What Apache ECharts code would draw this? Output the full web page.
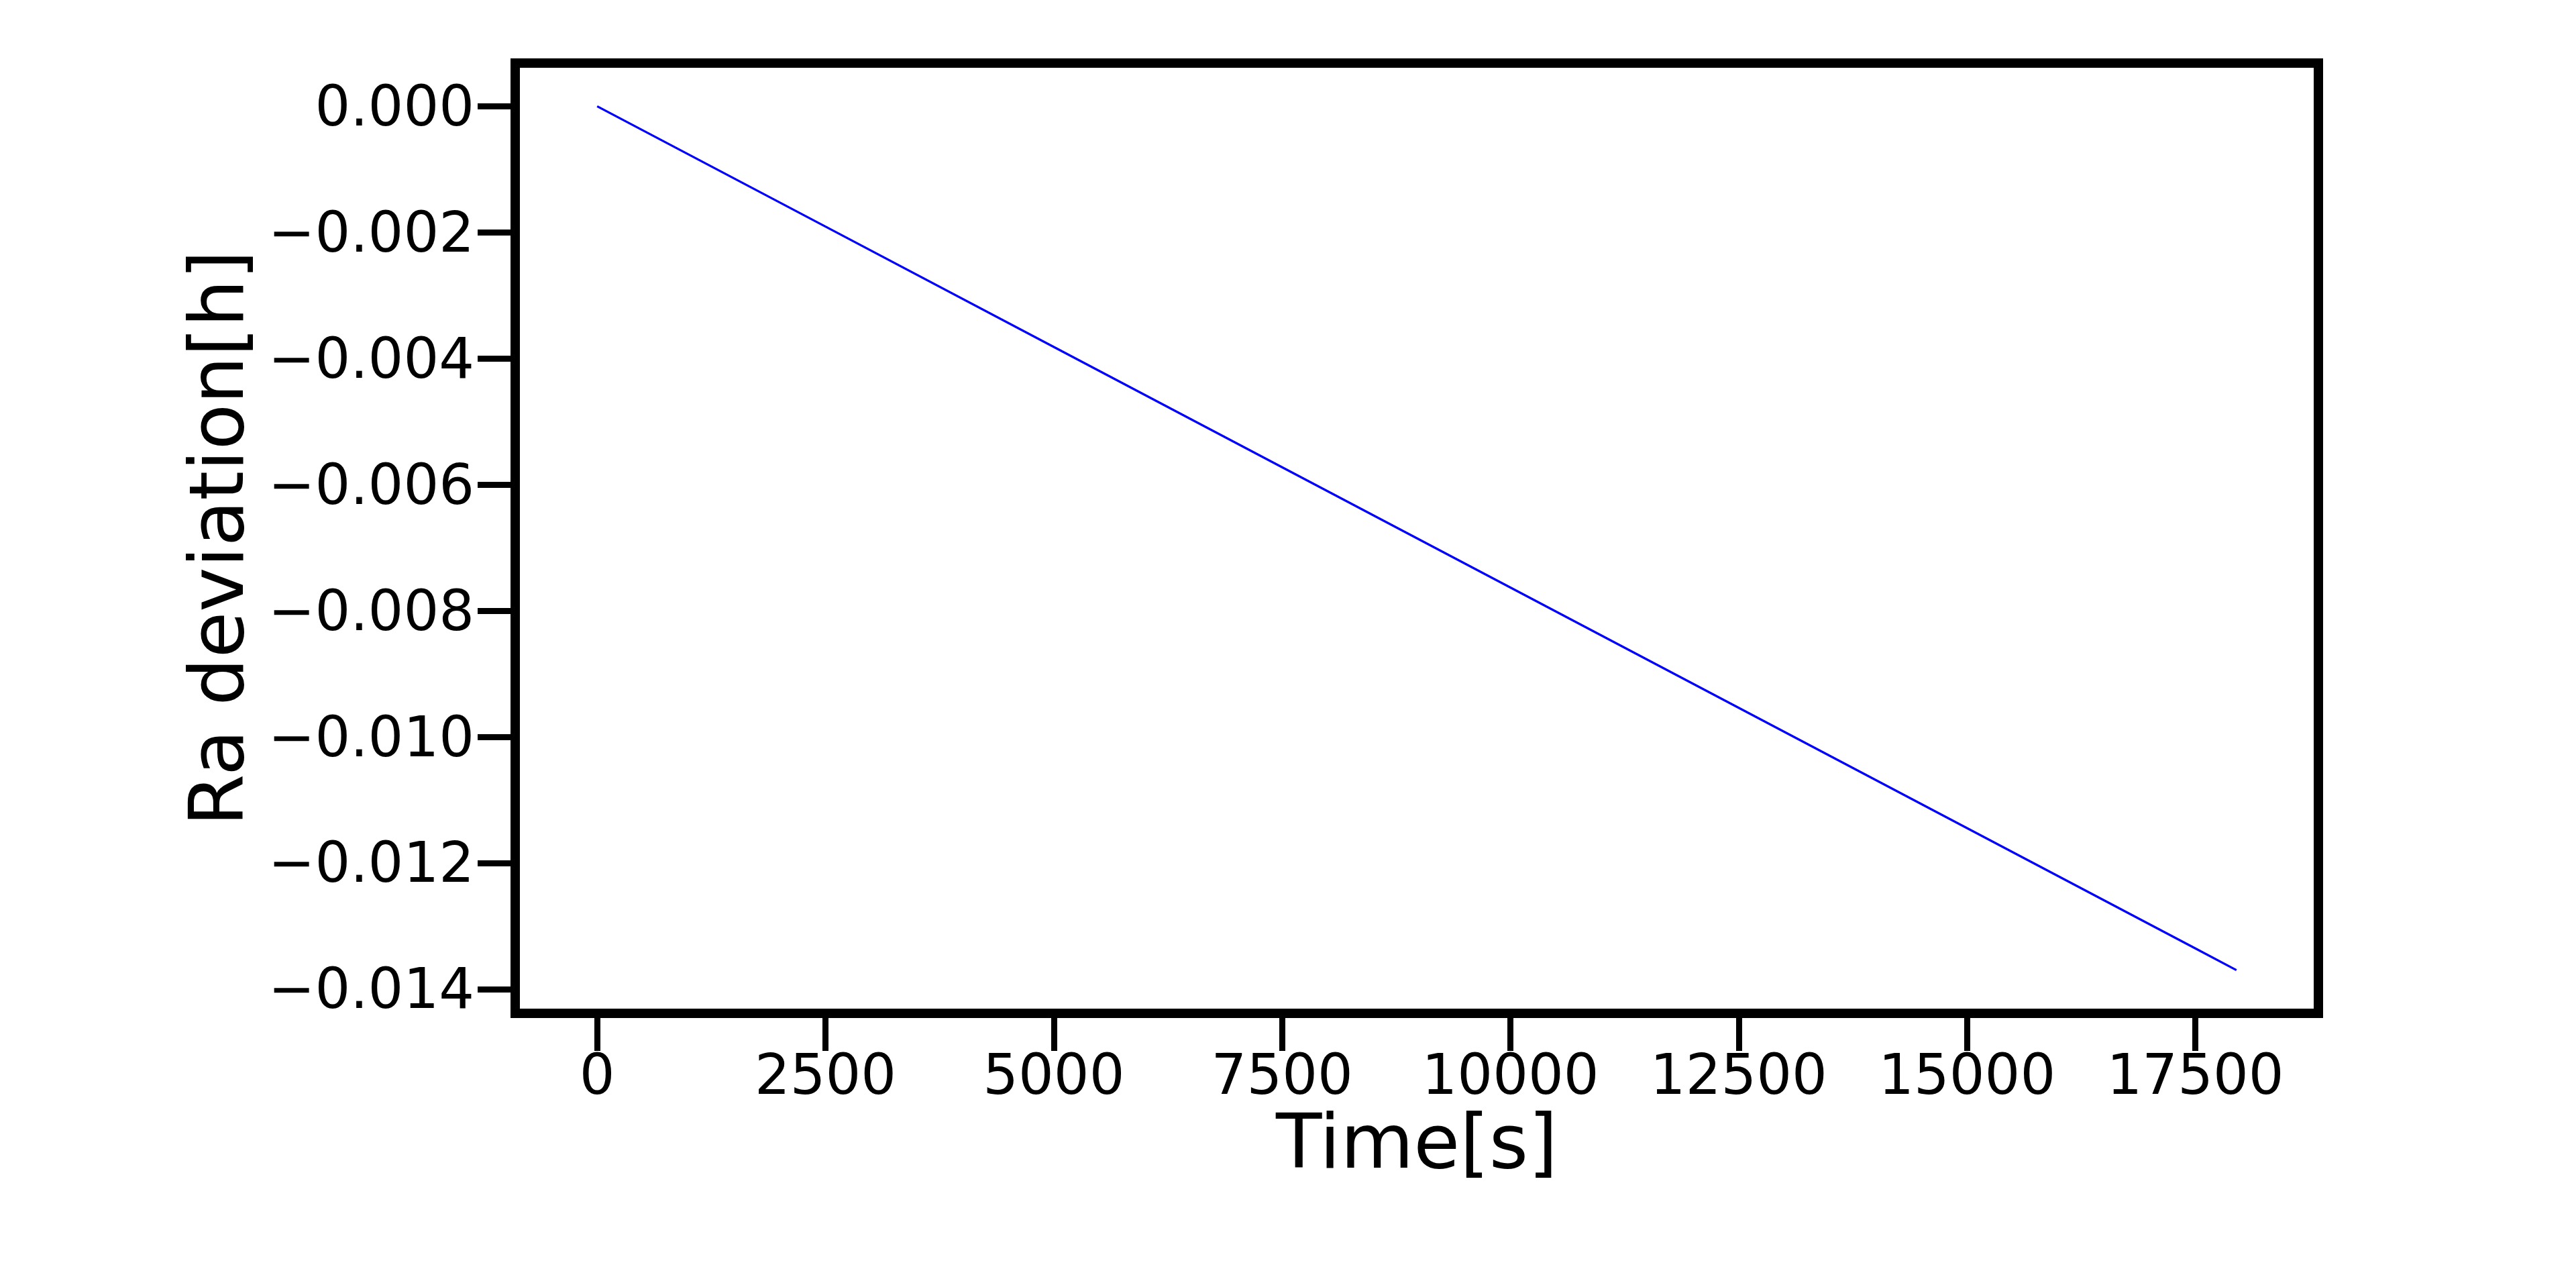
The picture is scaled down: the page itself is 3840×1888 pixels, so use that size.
<!DOCTYPE html>
<html>
<head>
<meta charset="utf-8">
<script src="https://cdn.jsdelivr.net/npm/echarts@6/dist/echarts.min.js"></script>
<style>
html,body{margin:0;padding:0;background:#fff;}
#chart{width:3840px;height:1888px;}
</style>
</head>
<body>
<div id="chart"></div>
<script>
// Data
const timeSeconds = [0, 2500, 5000, 7500, 10000, 12500, 15000, 17500, 17950];
const raDeviation = [0, -0.001908, -0.003816, -0.005724, -0.007632, -0.009540, -0.011448, -0.013356, -0.013700];
const xTickValues = [0, 2500, 5000, 7500, 10000, 12500, 15000, 17500];
const yTickValues = [0, -0.002, -0.004, -0.006, -0.008, -0.010, -0.012, -0.014];
const xAxisTitle = 'Time[s]';
const yAxisTitle = 'Ra deviation[h]';

const seriesData = timeSeconds.map((t, i) => [t, raDeviation[i]]);

// matplotlib-like 5% margins
const xLo = Math.min(...timeSeconds), xHi = Math.max(...timeSeconds);
const yLo = Math.min(...raDeviation), yHi = Math.max(...raDeviation);
const xPad = (xHi - xLo) * 0.05, yPad = (yHi - yLo) * 0.05;

const FONT = 'DejaVu Sans';
const chart = echarts.init(document.getElementById('chart'), null, {renderer: 'canvas'});
chart.setOption({
  backgroundColor: '#ffffff',
  animation: false,
  grid: {
    left: 768, right: 384, top: 94, bottom: 378,
    show: true, borderColor: '#000', borderWidth: 14, backgroundColor: 'transparent'
  },
  xAxis: {
    type: 'value',
    min: xLo - xPad, max: xHi + xPad,
    axisLine: {show: true, onZero: false, lineStyle: {color: '#000', width: 14}},
    splitLine: {show: false},
    axisTick: {show: true, inside: false, length: 56, lineStyle: {color: '#000', width: 9}, customValues: xTickValues},
    axisLabel: {
      show: true, customValues: xTickValues, margin: 57,
      color: '#000', fontFamily: FONT, fontSize: 83,
      formatter: v => String(Math.round(v))
    },
    name: xAxisTitle, nameLocation: 'middle', nameGap: 140,
    nameTextStyle: {color: '#000', fontFamily: FONT, fontSize: 112}
  },
  yAxis: {
    type: 'value',
    min: yLo - yPad, max: yHi + yPad,
    axisLine: {show: true, onZero: false, lineStyle: {color: '#000', width: 14}},
    splitLine: {show: false},
    axisTick: {show: true, inside: false, length: 56, lineStyle: {color: '#000', width: 9}, customValues: yTickValues},
    axisLabel: {
      show: true, customValues: yTickValues, margin: 61,
      color: '#000', fontFamily: FONT, fontSize: 83,
      formatter: v => {
        const s = Math.abs(v).toFixed(3);
        return '{v|' + (v < -1e-12 ? '\u2212' : '') + s + '}';
      },
      rich: {
        v: {color: '#000', fontFamily: FONT, fontSize: 83, padding: [14, 0, 0, 0]}
      }
    },
    name: yAxisTitle, nameLocation: 'middle', nameGap: 375,
    nameTextStyle: {color: '#000', fontFamily: FONT, fontSize: 112}
  },
  series: [{
    type: 'line',
    data: seriesData,
    showSymbol: false,
    lineStyle: {color: '#0000ff', width: 3.3},
    itemStyle: {color: '#0000ff'}
  }]
});
</script>
</body>
</html>
